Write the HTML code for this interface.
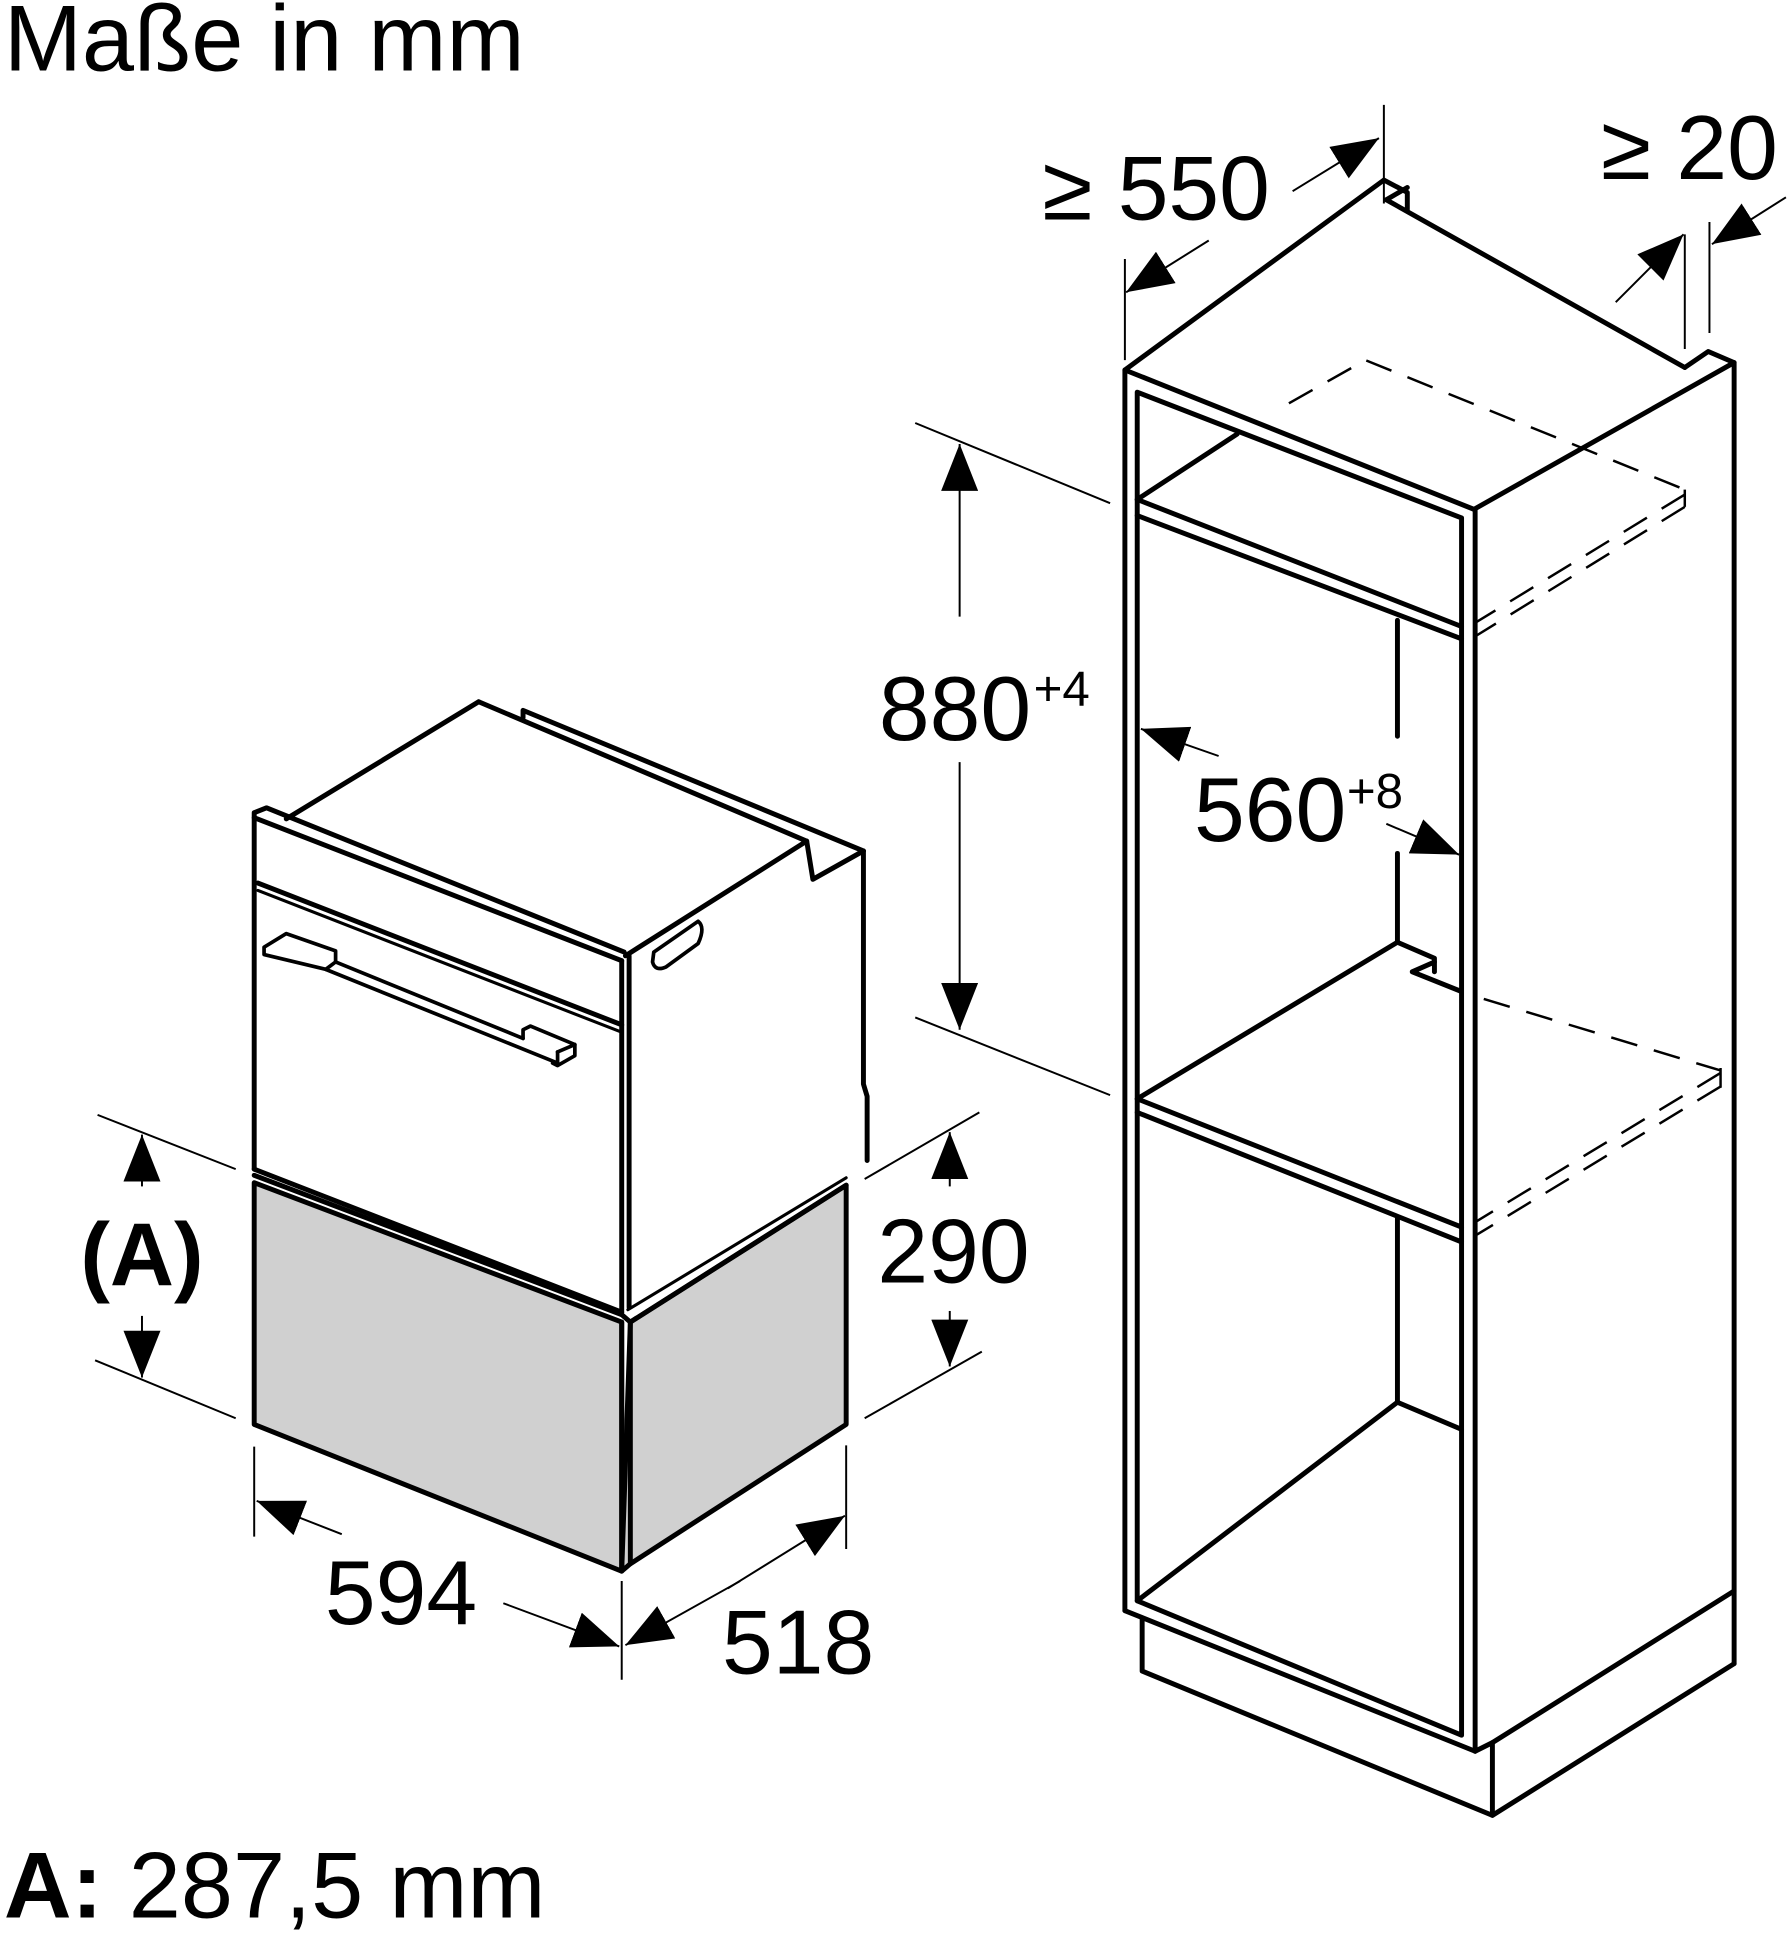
<!DOCTYPE html>
<html><head><meta charset="utf-8"><style>
html,body{margin:0;padding:0;background:#fff}
svg{display:block}
text{font-family:"Liberation Sans",Arial,sans-serif;fill:#000}
</style></head><body>
<svg width="1791" height="1935" viewBox="0 0 1452 1569" xmlns="http://www.w3.org/2000/svg">
<defs>
<marker id="ah" markerUnits="userSpaceOnUse" markerWidth="38" markerHeight="30" refX="38" refY="15" orient="auto">
<path d="M0,0 L38,15 L0,30 z" fill="#000"/>
</marker>
</defs>
<rect width="1452" height="1569" fill="#fff"/>
<text x="3" y="57" font-size="76">Maße in mm</text>
<text x="3" y="1555" font-size="76"><tspan font-weight="bold">A:</tspan> 287,5 mm</text>

<!-- ===== Oven + drawer ===== -->
<g fill="none" stroke="#000" stroke-width="4" stroke-linejoin="round" stroke-linecap="round">
<polygon points="206,959 504,1072 504,1274 206,1155" fill="#d0d0d0"/>
<polygon points="511,1072 686,961 686,1155 511,1268 504,1274" fill="#d0d0d0"/>
<line x1="504" y1="1072" x2="504" y2="1274"/>
<line x1="511" y1="1072" x2="511" y2="1268"/>
<line x1="206" y1="953" x2="504" y2="1066"/>
<line x1="504" y1="1066" x2="511" y2="1072"/>
<line x1="511" y1="1072" x2="686" y2="961"/>
<line x1="509" y1="1062" x2="686" y2="955" stroke-width="2.5"/>
<polyline points="206,948 206,659 216,655 506,772"/>
<line x1="206" y1="663" x2="504" y2="779"/>
<line x1="209" y1="716" x2="504" y2="831"/>
<line x1="209" y1="722" x2="504" y2="837" stroke-width="2.5"/>
<line x1="206" y1="948" x2="504" y2="1064"/>
<line x1="504" y1="779" x2="504" y2="1064"/>
<line x1="510" y1="775" x2="510" y2="1060"/>
<line x1="232" y1="664" x2="388" y2="569"/>
<line x1="388" y1="569" x2="654" y2="682"/>
<polyline points="424,582 424,576 700,690"/>
<polyline points="507,775 654,682 659,713 700,690"/>
<polyline points="700,690 700,879 703,889 703,941"/>
<path d="M530,772 L566,747 Q572,752 566,765 L540,784 Q531,788 529,780 z" stroke-width="3"/>
<path d="M214,768 L232,757 L272,771 L272,780 L264,786 L214,774 z" stroke-width="3"/>
<line x1="264" y1="786" x2="452" y2="862" stroke-width="3"/>
<line x1="272" y1="780" x2="424" y2="842" stroke-width="3"/>
<path d="M424,842 L424,835 L430,832 L466,847 L466,856 L452,864 L448,862" stroke-width="3"/>
<line x1="452" y1="862" x2="452" y2="853" stroke-width="3"/>
<line x1="452" y1="853" x2="466" y2="847" stroke-width="3"/>
</g>

<g fill="none" stroke="#000" stroke-width="1.6">
<line x1="79" y1="904" x2="191" y2="948"/>
<line x1="77" y1="1103" x2="191" y2="1150"/>
<line x1="115" y1="962" x2="115" y2="920" marker-end="url(#ah)"/>
<line x1="115" y1="1067" x2="115" y2="1117" marker-end="url(#ah)"/>
<line x1="701" y1="956" x2="794" y2="902"/>
<line x1="701" y1="1150" x2="796" y2="1096"/>
<line x1="770" y1="962" x2="770" y2="918" marker-end="url(#ah)"/>
<line x1="770" y1="1063" x2="770" y2="1108" marker-end="url(#ah)"/>
<line x1="206" y1="1173" x2="206" y2="1246"/>
<line x1="504" y1="1282" x2="504" y2="1362"/>
<line x1="686" y1="1172" x2="686" y2="1256"/>
<line x1="277" y1="1244" x2="208" y2="1217" marker-end="url(#ah)"/>
<line x1="408" y1="1300" x2="502" y2="1335" marker-end="url(#ah)"/>
<line x1="600" y1="1282" x2="507" y2="1334" marker-end="url(#ah)"/>
<line x1="590" y1="1288" x2="685" y2="1229" marker-end="url(#ah)"/>
</g>
<text x="115" y="1042" font-size="72" font-weight="bold" text-anchor="middle">(A)</text>
<text x="773" y="1040" font-size="74" text-anchor="middle">290</text>
<text x="325" y="1317" font-size="74" text-anchor="middle">594</text>
<text x="647" y="1357" font-size="74" text-anchor="middle">518</text>

<!-- ===== Cabinet ===== -->
<g fill="none" stroke="#000" stroke-width="4" stroke-linejoin="round" stroke-linecap="round">
<polyline points="912,1306 912,300 1122,146 1141,156 1141,170"/>
<polyline points="1124,162 1141,152"/>
<line x1="1124" y1="162" x2="1366" y2="298"/>
<polyline points="1366,298 1385,285 1406,294 1195,413"/>
<line x1="912" y1="300" x2="1195" y2="413"/>
<line x1="1406" y1="294" x2="1406" y2="1349"/>
<polyline points="922,1298 922,318 1185,420 1185,1407 922,1298"/>
<line x1="1196" y1="413" x2="1196" y2="1420"/>
<line x1="912" y1="1306" x2="1196" y2="1420"/>
<line x1="922" y1="405" x2="1185" y2="508"/>
<line x1="922" y1="418" x2="1185" y2="518"/>
<line x1="922" y1="405" x2="1003" y2="352"/>
<line x1="1133" y1="503" x2="1133" y2="597"/>
<line x1="1133" y1="692" x2="1133" y2="764"/>
<line x1="922" y1="891" x2="1133" y2="764"/>
<polyline points="1133,764 1163,777 1163,788"/>
<polyline points="1163,780 1145,788 1185,804"/>
<line x1="922" y1="891" x2="1185" y2="995"/>
<line x1="922" y1="902" x2="1185" y2="1007"/>
<line x1="1133" y1="987" x2="1133" y2="1137"/>
<line x1="922" y1="1298" x2="1133" y2="1137"/>
<line x1="1133" y1="1137" x2="1185" y2="1159"/>
<polyline points="926,1313 926,1355 1210,1472 1406,1349"/>
<line x1="1210" y1="1413" x2="1210" y2="1472"/>
<polyline points="1196,1420 1210,1413 1406,1290"/>
</g>
<g fill="none" stroke="#000" stroke-width="2" stroke-dasharray="22,14">
<polyline points="1045,327 1107,292 1366,397"/>
<line x1="1366" y1="401" x2="1196" y2="505"/>
<line x1="1366" y1="411" x2="1196" y2="516"/>
<polyline points="1203,810 1395,868"/>
<line x1="1395" y1="870" x2="1196" y2="991"/>
<line x1="1395" y1="881" x2="1196" y2="1002"/>
</g>
<g fill="none" stroke="#000" stroke-width="2">
<line x1="1366" y1="397" x2="1366" y2="411"/>
<line x1="1395" y1="866" x2="1395" y2="882"/>
</g>

<g fill="none" stroke="#000" stroke-width="1.6">
<line x1="742" y1="343" x2="900" y2="408"/>
<line x1="742" y1="825" x2="900" y2="888"/>
<line x1="778" y1="500" x2="778" y2="360" marker-end="url(#ah)"/>
<line x1="778" y1="618" x2="778" y2="835" marker-end="url(#ah)"/>
<line x1="988" y1="613" x2="925" y2="591" marker-end="url(#ah)"/>
<line x1="1124" y1="668" x2="1183" y2="693" marker-end="url(#ah)"/>
<line x1="912" y1="210" x2="912" y2="292"/>
<line x1="1122" y1="85" x2="1122" y2="165"/>
<line x1="980" y1="195" x2="913" y2="237" marker-end="url(#ah)"/>
<line x1="1048" y1="155" x2="1118" y2="112" marker-end="url(#ah)"/>
<line x1="1366" y1="190" x2="1366" y2="283"/>
<line x1="1386" y1="180" x2="1386" y2="270"/>
<line x1="1310" y1="245" x2="1365" y2="190" marker-end="url(#ah)"/>
<line x1="1448" y1="160" x2="1388" y2="198" marker-end="url(#ah)"/>
</g>
<text x="836" y="600" font-size="74" text-anchor="end">880</text>
<text x="838" y="572" font-size="40">+4</text>
<text x="968" y="682" font-size="74">560</text>
<text x="1092" y="655" font-size="40">+8</text>
<text x="845" y="178" font-size="74">≥ 550</text>
<text x="1298" y="145" font-size="74">≥ 20</text>
</svg>
</body></html>
